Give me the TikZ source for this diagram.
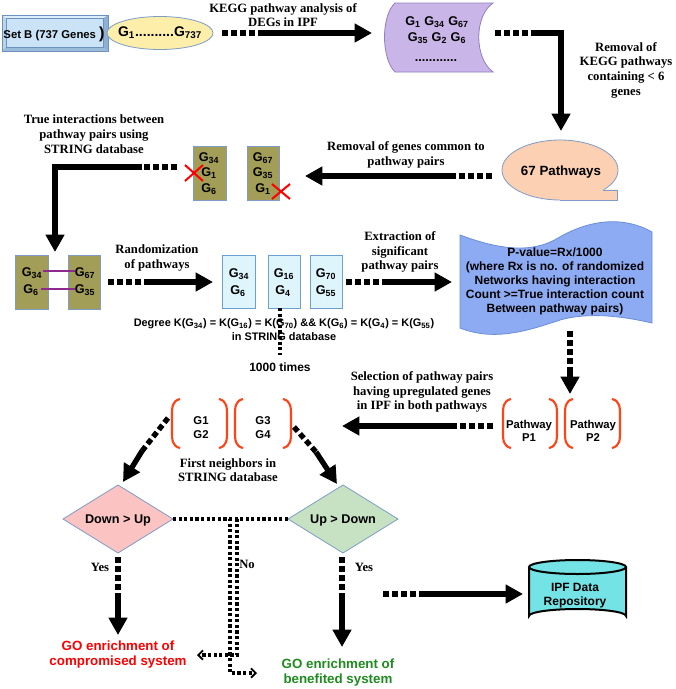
\documentclass[tikz,border=0pt]{standalone}
\usepackage{fontspec}
\setmainfont{Liberation Serif}
\setsansfont{Liberation Sans}
\usetikzlibrary{arrows.meta}
\newcommand{\gs}[1]{G\textsubscript{#1}}
\definecolor{bordb}{HTML}{7D9CC8}
\definecolor{setface}{HTML}{CBE3F6}
\definecolor{setlt}{HTML}{DDEEFB}
\definecolor{setlf}{HTML}{B9D5EE}
\definecolor{setrt}{HTML}{8DB0D5}
\definecolor{setbt}{HTML}{9BBBDB}
\definecolor{setbd}{HTML}{6E92BE}
\definecolor{yell}{HTML}{FDEFAA}
\definecolor{lav}{HTML}{C9B5E8}
\definecolor{lavbd}{HTML}{9080C0}
\definecolor{peach}{HTML}{FCD0B3}
\definecolor{olive}{HTML}{A39E57}
\definecolor{lblue}{HTML}{DDF5FB}
\definecolor{lbluebd}{HTML}{6E9ED2}
\definecolor{pval}{HTML}{8DABF2}
\definecolor{pvalbd}{HTML}{6A8ED8}
\definecolor{brkc}{HTML}{FF4418}
\definecolor{pinkd}{HTML}{FCC3C3}
\definecolor{greend}{HTML}{C7E2C2}
\definecolor{cyl}{HTML}{74E3E6}
\definecolor{goG}{HTML}{1E8C1E}
\definecolor{purp}{HTML}{8E2A8E}
\tikzset{
 lbl/.style={font=\bfseries\fontsize{9.5}{11}\selectfont, align=center, inner sep=0pt},
 sb/.style={font=\sffamily\bfseries\fontsize{9}{10.5}\selectfont, align=center, inner sep=0pt},
 gt/.style={font=\sffamily\bfseries\fontsize{9.5}{11}\selectfont, align=center, inner sep=0pt},
 solidarr/.style={line width=4pt, -{Triangle[length=13pt,width=13.5pt]}},
 sqdash/.style={line width=4pt, dash pattern=on 4.3pt off 2.5pt},
 dotln/.style={line width=2.5pt, dash pattern=on 2.4pt off 1.8pt},
 dotarr/.style={dotln, -{Straight Barb[length=3.5pt,width=7pt,line width=1.4pt]}},
 brk/.style={draw=brkc, line width=1.6pt},
 shapebd/.style={draw=bordb, line width=0.6pt},
}
\newcommand{\lbrk}[3]{\draw[brk] ({#1+8},#2) .. controls (#1,{#2+2}) and (#1,{#2+8}) .. (#1,{#2+17}) -- (#1,{#3-17}) .. controls (#1,{#3-8}) and (#1,{#3-2}) .. ({#1+8},#3);}
\newcommand{\rbrk}[3]{\draw[brk] ({#1-8},#2) .. controls (#1,{#2+2}) and (#1,{#2+8}) .. (#1,{#2+17}) -- (#1,{#3-17}) .. controls (#1,{#3-8}) and (#1,{#3-2}) .. ({#1-8},#3);}
\begin{document}
\begin{tikzpicture}[x=0.75pt,y=-0.75pt]
\useasboundingbox (0,0) rectangle (675,689);
\fill[white] (0,0) rectangle (675,689);

% ---------- Set B bevel box
\fill[setface] (2,15) rectangle (108,51);
\fill[setlt] (2,15) -- (108,15) -- (103,18.5) -- (6,18.5) -- cycle;
\fill[setlf] (2,15) -- (6,18.5) -- (6,47) -- (2,51) -- cycle;
\fill[setrt] (108,15) -- (103,18.5) -- (103,47) -- (108,51) -- cycle;
\fill[setbt] (2,51) -- (6,47) -- (103,47) -- (108,51) -- cycle;
\draw[setbd, line width=0.6pt] (2,15) rectangle (108,51);
\draw[setbd, line width=0.4pt] (6,18.5) rectangle (103,47);
\node[sb, font=\sffamily\bfseries\fontsize{8.5}{9}\selectfont] (setb) at (54,34) {Set B (737 Genes {\fontsize{12}{12}\selectfont )}};

% ---------- G1...G737 ellipse
\draw[shapebd, fill=yell] (160,33) ellipse [x radius=53, y radius=16.5];
\node[gt, font=\sffamily\bfseries\fontsize{10.5}{12}\selectfont] (gall) at (160,33) {\gs{1}..........\gs{737}};

% ---------- top label + arrow
\node[lbl] (lkegg) at (283,15) {KEGG pathway analysis of\\DEGs in IPF};
\coordinate (a1s) at (222,33);
\coordinate (a1m) at (262,33);
\coordinate (a1e) at (372,33);
\draw[sqdash] (a1s) -- (a1m);
\draw[solidarr] (a1m) -- (a1e);

% ---------- purple stored-data shape
\draw[draw=lavbd, line width=0.6pt, fill=lav] (395,3) -- (493,3) .. controls (474,16) and (474,58) .. (493,72) -- (395,72) .. controls (381,58) and (381,16) .. (395,3) -- cycle;
\node[gt] (kg1) at (437,22) {\gs{1} \gs{34} \gs{67}};
\node[gt] (kg2) at (437,38) {\gs{35} \gs{2} \gs{6}};
\node[gt, anchor=base] (kg3) at (436,61) {............};

\coordinate (a2s) at (495,33);
\coordinate (a2m) at (532,33);
\coordinate (a2e) at (561,131);
\draw[sqdash] (a2s) -- (a2m);
\draw[solidarr] (a2m) -| (a2e);
\node[lbl] (lrem) at (626,70) {Removal of\\KEGG pathways\\containing {\textless} 6\\genes};

% ---------- 67 pathways
\draw[shapebd, fill=peach] (560,170) ellipse [x radius=58, y radius=30];
\fill[peach] (560,189.5) -- (603,189.5) -- (617,189.5) -- (617,200) -- (560,200) -- cycle;
\draw[shapebd] (603,190) -- (617,190) -- (617,200) -- (560,200);
\node[gt, font=\sffamily\bfseries\fontsize{10}{12}\selectfont] (p67) at (561,172) {67 Pathways};

\coordinate (a3s) at (492,176);
\coordinate (a3m) at (455,176);
\coordinate (a3e) at (305,176);
\draw[sqdash] (a3s) -- (a3m);
\draw[solidarr] (a3m) -- (a3e);
\node[lbl] (lcom) at (406,155) {Removal of genes common to\\pathway pairs};

% ---------- olive boxes with crosses
\draw[shapebd, fill=olive] (193,146) rectangle (226,200);
\draw[shapebd, fill=olive] (247,146) rectangle (279,200);
\node[gt] (oa1) at (209,158) {\gs{34}};
\node[gt] (oa2) at (209,173) {\gs{1}};
\node[gt] (oa3) at (209,189) {\gs{6}};
\node[gt] (ob1) at (263,158) {\gs{67}};
\node[gt] (ob2) at (263,173) {\gs{35}};
\node[gt] (ob3) at (263,189) {\gs{1}};
\draw[red, line width=1.5pt] (185,165) -- (203,181) (185,181) -- (203,165);
\draw[red, line width=1.5pt] (272,184) -- (290,199) (272,199) -- (290,184);

\coordinate (a4s) at (177,167);
\coordinate (a4m) at (142,167);
\coordinate (a4e) at (55,252);
\draw[sqdash] (a4s) -- (a4m);
\draw[solidarr] (a4m) -| (a4e);
\node[lbl] (ltrue) at (94,134) {True interactions between\\pathway pairs using\\STRING database};

% ---------- interacting pair
\draw[shapebd, fill=olive] (15,255) rectangle (48,309);
\draw[shapebd, fill=olive] (68,255) rectangle (100,309);
\node[gt] (c1) at (32,273) {\gs{34}};
\node[gt] (c2) at (31,290) {\gs{6}};
\node[gt] (d1) at (85,273) {\gs{67}};
\node[gt] (d2) at (85,290) {\gs{35}};
\draw[purp, line width=1.5pt] (43,271) -- (75,271);
\draw[purp, line width=1.5pt] (41,289) -- (75,289);

\node[lbl] (lrand) at (157,258) {Randomization\\of pathways};
\coordinate (a5s) at (108,282);
\coordinate (a5m) at (145,282);
\coordinate (a5e) at (213,282);
\draw[sqdash] (a5s) -- (a5m);
\draw[solidarr] (a5m) -- (a5e);

% ---------- randomized blue boxes
\draw[draw=lbluebd, line width=0.6pt, fill=lblue] (222,255) rectangle (255,308);
\draw[draw=lbluebd, line width=0.6pt, fill=lblue] (268,255) rectangle (300,308);
\draw[draw=lbluebd, line width=0.6pt, fill=lblue] (310,255) rectangle (342,308);
\node[gt] (e1) at (239,274) {\gs{34}};
\node[gt] (e2) at (238,291) {\gs{6}};
\node[gt] (f1) at (284,274) {\gs{16}};
\node[gt] (f2) at (283,291) {\gs{4}};
\node[gt] (g1) at (326,274) {\gs{70}};
\node[gt] (g2) at (326,291) {\gs{55}};

\node[sb, font=\sffamily\bfseries\fontsize{8.2}{10.5}\selectfont] (deg) at (284,330) {Degree K(\gs{34}) = K(\gs{16}) = K(\gs{70}) \&\& K(\gs{6}) = K(\gs{4}) = K(\gs{55})\\in STRING database};
\coordinate (vt) at (280,308);
\coordinate (vb) at (280,355);
\draw[dotln] (vt) -- (vb);
\node[sb] (t1000) at (280,367) {1000 times};

% ---------- extraction arrow + P-value tape
\node[lbl] (lext) at (400,252) {Extraction of\\significant\\pathway pairs};
\coordinate (a6s) at (346,282);
\coordinate (a6m) at (383,282);
\coordinate (a6e) at (452,282);
\draw[sqdash] (a6s) -- (a6m);
\draw[solidarr] (a6m) -- (a6e);

\draw[draw=pvalbd, line width=0.6pt, fill=pval] (460,235) .. controls (495,248) and (530,255) .. (558,238) .. controls (585,222) and (620,214) .. (652,232) -- (652,323) .. controls (622,316) and (588,312) .. (560,320) .. controls (530,330) and (495,342) .. (460,328) -- cycle;
\node[sb] (pv) at (555,281) {P-value=Rx/1000\\(where Rx is no. of randomized\\Networks having interaction\\Count {\textgreater}=True interaction count\\Between pathway pairs)};

\coordinate (a7s) at (570,331);
\coordinate (a7m) at (570,370);
\coordinate (a7e) at (570,394);
\draw[sqdash] (a7s) -- (a7m);
\draw[solidarr] (a7m) -- (a7e);

% ---------- pathway brackets
\lbrk{503}{399}{448}
\rbrk{557}{399}{448}
\lbrk{565}{399}{448}
\rbrk{620}{399}{448}
\node[sb, font=\sffamily\bfseries\fontsize{8.5}{10}\selectfont] (pp1) at (529,431) {Pathway\\P1};
\node[sb, font=\sffamily\bfseries\fontsize{8.5}{10}\selectfont] (pp2) at (593,431) {Pathway\\P2};

\coordinate (a8s) at (493,426);
\coordinate (a8m) at (455,426);
\coordinate (a8e) at (342,426);
\draw[sqdash] (a8s) -- (a8m);
\draw[solidarr] (a8m) -- (a8e);
\node[lbl] (lsel) at (422,392) {Selection of pathway pairs\\having upregulated genes\\in IPF in both pathways};

% ---------- gene brackets
\lbrk{172}{399}{448}
\rbrk{227}{399}{448}
\lbrk{235}{399}{448}
\rbrk{291}{399}{448}
\node[sb, font=\sffamily\bfseries\fontsize{8.5}{10}\selectfont] (gg1) at (201,427.5) {G1\\G2};
\node[sb, font=\sffamily\bfseries\fontsize{8.5}{10}\selectfont] (gg2) at (263,427.5) {G3\\G4};
\node[lbl] (lfirst) at (228,470) {First neighbors in\\STRING database};

% ---------- diamonds
\coordinate (dnT) at (118,485);
\coordinate (dnB) at (118,553);
\coordinate (dnL) at (63,519);
\coordinate (dnR) at (173,519);
\draw[shapebd, fill=pinkd] (dnT) -- (dnR) -- (dnB) -- (dnL) -- cycle;
\node[gt, font=\sffamily\bfseries\fontsize{9.5}{11}\selectfont] (down) at (118,520) {Down {\textgreater} Up};
\coordinate (upT) at (343,485);
\coordinate (upB) at (343,553);
\coordinate (upL) at (288,519);
\coordinate (upR) at (398,519);
\draw[shapebd, fill=greend] (upT) -- (upR) -- (upB) -- (upL) -- cycle;
\node[gt, font=\sffamily\bfseries\fontsize{9.5}{11}\selectfont] (up) at (343,520) {Up {\textgreater} Down};

% diagonal arrows
\coordinate (d1s) at (168,418);
\coordinate (d1m) at (142,451);
\coordinate (d1e) at (123,482);
\draw[sqdash] (d1s) -- (d1m);
\draw[solidarr] (d1m) -- (d1e);
\coordinate (d2s) at (294,427);
\coordinate (d2m) at (316,452);
\coordinate (d2e) at (337,484);
\draw[sqdash] (d2s) -- (d2m);
\draw[solidarr] (d2m) -- (d2e);

% "No" dotted connectors
\coordinate (n1a) at (230,519);
\coordinate (n1e) at (257,673);
\draw[dotarr] (dnR) -- (n1a) |- (n1e);
\coordinate (n2a) at (237,519);
\coordinate (n2e) at (197,655);
\draw[dotarr] (upL) -- (n2a) |- (n2e);
\node[lbl] (lno) at (247,564) {No};

% Yes arrows
\node[lbl] (ly1) at (100,567) {Yes};
\node[lbl] (ly2) at (364,567) {Yes};
\coordinate (y1s) at (118,557);
\coordinate (y1m) at (118,596);
\coordinate (y1e) at (118,635);
\draw[sqdash] (y1s) -- (y1m);
\draw[solidarr] (y1m) -- (y1e);
\coordinate (y2s) at (342,557);
\coordinate (y2m) at (342,597);
\coordinate (y2e) at (342,647);
\draw[sqdash] (y2s) -- (y2m);
\draw[solidarr] (y2m) -- (y2e);

\node[sb, font=\sffamily\bfseries\fontsize{10}{11.3}\selectfont, text=red] (gocomp) at (118,654.5) {GO enrichment of\\compromised system};
\node[sb, font=\sffamily\bfseries\fontsize{10}{11.3}\selectfont, text=goG] (goben) at (338,673) {GO enrichment of\\benefited system};

% repository arrow + cylinder
\coordinate (r1s) at (383,594);
\coordinate (r1m) at (420,594);
\coordinate (r1e) at (523,594);
\draw[sqdash] (r1s) -- (r1m);
\draw[solidarr] (r1m) -- (r1e);

\draw[black, line width=1.5pt, fill=cyl] (529,567) -- (529,616) arc[start angle=180, end angle=360, x radius=48.5, y radius=7] -- (626,567);
\draw[black, line width=1.5pt, fill=cyl] (577.5,567) ellipse [x radius=48.5, y radius=7];
\node[sb, font=\sffamily\bfseries\fontsize{9}{10.5}\selectfont] (ipf) at (575,596) {IPF Data\\Repository};
\end{tikzpicture}
\end{document}
